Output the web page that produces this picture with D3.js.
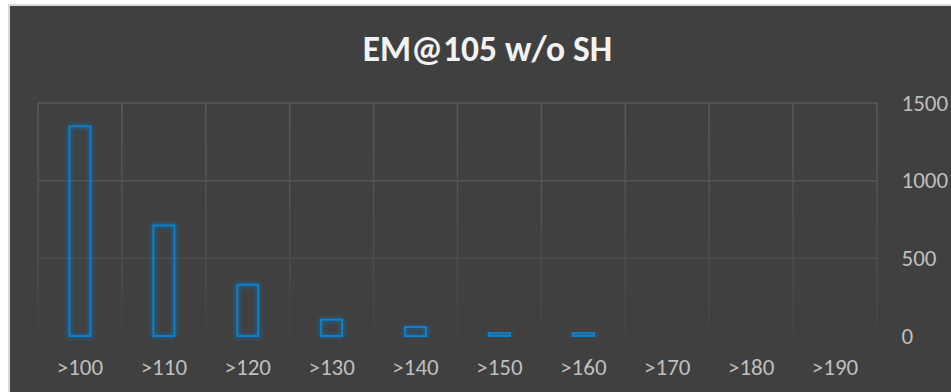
<!DOCTYPE html>
<html>
<head>
<meta charset="utf-8">
<script src="https://cdn.jsdelivr.net/npm/d3@7"></script>
<style>
  html, body { margin: 0; padding: 0; background: #fff; }
  svg { display: block; }
</style>
</head>
<body>
<svg id="chart"></svg>
<script>
const categories = [">100", ">110", ">120", ">130", ">140", ">150", ">160", ">170", ">180", ">190"];
const counts = [1350, 712, 330, 105, 58, 21, 21, 0, 0, 0];
const yTicks = [0, 500, 1000, 1500];
const title = "EM@105 w/o SH";

const W = 951, H = 392;
const font = "Carlito, 'Open Sans', 'Liberation Sans', sans-serif";
const svg = d3.select("#chart").attr("width", W).attr("height", H);

// chart frame
svg.append("rect")
  .attr("x", 9).attr("y", 5).attr("width", W - 8).attr("height", H - 4)
  .attr("fill", "#404040")
  .attr("stroke", "#d9d9d9").attr("stroke-width", 2);

const margin = { top: 103, right: 74, bottom: 56, left: 38 };
const innerW = W - margin.left - margin.right;
const innerH = H - margin.top - margin.bottom;

const g = svg.append("g")
  .attr("transform", `translate(${margin.left},${margin.top})`);

const x = d3.scaleBand().domain(categories).range([0, innerW])
  .paddingInner(0.75).paddingOuter(0.375);
const xb = d3.scaleBand().domain(categories).range([0, innerW]).padding(0);
const y = d3.scaleLinear().domain([0, 1500]).range([innerH, 0]);

// faded gridline gradient
const defs = svg.append("defs");
const grad = defs.append("linearGradient")
  .attr("id", "vfade").attr("gradientUnits", "userSpaceOnUse")
  .attr("x1", 0).attr("y1", 0).attr("x2", 0).attr("y2", innerH);
grad.append("stop").attr("offset", 0).attr("stop-color", "#5a5a5a");
grad.append("stop").attr("offset", 0.6).attr("stop-color", "#4e4e4e");
grad.append("stop").attr("offset", 1).attr("stop-color", "#434343");

const glow = defs.append("filter").attr("id", "glow")
  .attr("x", "-50%").attr("y", "-20%").attr("width", "200%").attr("height", "140%");
glow.append("feGaussianBlur").attr("in", "SourceGraphic").attr("stdDeviation", 2.5).attr("result", "b");
const merge = glow.append("feMerge");
merge.append("feMergeNode").attr("in", "b");
merge.append("feMergeNode").attr("in", "SourceGraphic");

// horizontal gridlines
g.append("g")
  .selectAll("line")
  .data(yTicks.filter(d => d > 0))
  .join("line")
  .attr("x1", 0).attr("x2", innerW)
  .attr("y1", d => y(d)).attr("y2", d => y(d))
  .attr("stroke", d => d === 1500 ? "#5a5a5a" : d === 1000 ? "#555555" : "#4d4d4d")
  .attr("stroke-width", 1.5);

// vertical gridlines at category boundaries
const bounds = categories.map(c => xb(c)).concat([innerW]);
g.append("g")
  .selectAll("line")
  .data(bounds)
  .join("line")
  .attr("x1", d => d).attr("x2", d => d)
  .attr("y1", 0).attr("y2", innerH)
  .attr("stroke", "url(#vfade)")
  .attr("stroke-width", 1.5);

// bars (outlined, glowing)
g.append("g")
  .selectAll("rect")
  .data(categories.map((c, i) => ({ c, v: counts[i] })).filter(d => d.v > 0))
  .join("rect")
  .attr("x", d => x(d.c))
  .attr("width", x.bandwidth())
  .attr("y", d => y(d.v))
  .attr("height", d => Math.max(2, innerH - y(d.v)))
  .attr("fill", "none")
  .attr("stroke", "#0a7fcf")
  .attr("stroke-width", 2)
  .attr("filter", "url(#glow)");

// right y-axis labels
g.append("g")
  .selectAll("text")
  .data(yTicks)
  .join("text")
  .attr("x", innerW + 24.5)
  .attr("y", d => y(d))
  .attr("dy", "0.33em")
  .attr("text-anchor", "start")
  .attr("fill", "#bfbfbf")
  .style("font-family", font)
  .style("font-size", "23px")
  .text(d => d);

// x labels
g.append("g")
  .selectAll("text")
  .data(categories)
  .join("text")
  .attr("x", d => xb(d) + xb.bandwidth() / 2)
  .attr("y", innerH + 31.5)
  .attr("dy", "0.33em")
  .attr("text-anchor", "middle")
  .attr("fill", "#bfbfbf")
  .style("font-family", font)
  .style("font-size", "23px")
  .text(d => d);

// title
svg.append("text")
  .attr("x", 487.5).attr("y", 49.5)
  .attr("dy", "0.33em")
  .attr("text-anchor", "middle")
  .attr("fill", "#f2f2f2")
  .style("font-family", font)
  .style("font-size", "35.5px")
  .style("font-weight", 700)
  .text(title);
</script>
</body>
</html>
